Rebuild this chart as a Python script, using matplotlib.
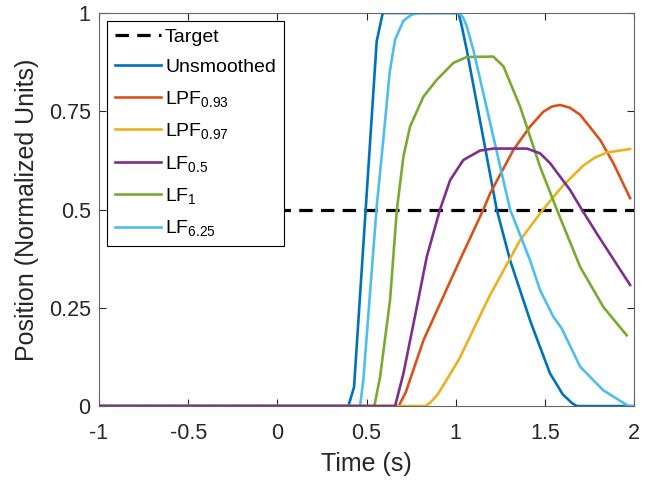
import numpy as np
import matplotlib
matplotlib.use("Agg")
import matplotlib.pyplot as plt

plt.rcParams['font.family'] = ['Liberation Sans', 'DejaVu Sans']
plt.rcParams['mathtext.default'] = 'regular'

# target step
target_t = [-1, 0, 0, 0, 2]
target_y = [0, 0, np.nan, 0.5, 0.5]

unsm_t = [-1, 0.398, 0.430, 0.557, 0.591, 1.015, 1.03, 1.062, 1.230, 1.305, 1.417, 1.473, 1.529, 1.60, 1.651, 1.679, 2.0]
unsm_y = [0, 0, 0.048, 0.928, 1, 1, 0.975, 0.906, 0.5, 0.371, 0.218, 0.150, 0.083, 0.03, 0.008, 0, 0]

lpf93_t = [-1, 0.68, 0.72, 0.819, 1.006, 1.155, 1.193, 1.324, 1.417, 1.492, 1.54, 1.585, 1.64, 1.698, 1.81, 1.884, 1.978]
lpf93_y = [0, 0, 0.035, 0.167, 0.354, 0.5, 0.541, 0.652, 0.711, 0.749, 0.762, 0.766, 0.759, 0.741, 0.677, 0.618, 0.529]

lpf97_t = [-1, 0.83, 0.86, 0.90, 1.02, 1.19, 1.361, 1.49, 1.60, 1.716, 1.78, 1.847, 1.978]
lpf97_y = [0, 0, 0.01, 0.03, 0.12, 0.28, 0.422, 0.50, 0.56, 0.612, 0.632, 0.645, 0.654]

lf05_t = [-1, 0.660, 0.707, 0.782, 0.838, 0.912, 0.969, 1.043, 1.137, 1.21, 1.40, 1.473, 1.529, 1.641, 1.707, 1.791, 1.978]
lf05_y = [0, 0, 0.083, 0.252, 0.380, 0.5, 0.575, 0.626, 0.650, 0.655, 0.655, 0.643, 0.618, 0.55, 0.5, 0.439, 0.308]

lf1_t = [-1, 0.544, 0.576, 0.632, 0.67, 0.707, 0.744, 0.819, 0.894, 0.987, 1.062, 1.211, 1.268, 1.361, 1.473, 1.567, 1.698, 1.828, 1.959]
lf1_y = [0, 0, 0.074, 0.27, 0.499, 0.635, 0.711, 0.787, 0.83, 0.873, 0.888, 0.889, 0.864, 0.762, 0.609, 0.5, 0.354, 0.252, 0.180]

lf625_t = [-1, 0.464, 0.482, 0.557, 0.594, 0.630, 0.66, 0.707, 0.75, 0.791, 1.015, 1.04, 1.062, 1.099, 1.305, 1.417, 1.473, 1.548, 1.575, 1.595, 1.698, 1.828, 1.969, 2.0]
lf625_y = [0, 0, 0.066, 0.507, 0.677, 0.85, 0.932, 0.98, 0.995, 1, 1, 0.99, 0.966, 0.906, 0.5, 0.371, 0.295, 0.227, 0.21, 0.197, 0.10, 0.04, 0.0, 0]

xticks = [-1, -0.5, 0, 0.5, 1, 1.5, 2]
xtick_labels = ['-1', '-0.5', '0', '0.5', '1', '1.5', '2']
yticks = [0, 0.25, 0.5, 0.75, 1]
ytick_labels = ['0', '0.25', '0.5', '0.75', '1']

fig = plt.figure(figsize=(6.45, 4.8), dpi=100)
ax = fig.add_axes([0.1535, 0.154, 0.8295, 0.819])

lw = 1.9
ax.plot(target_t, target_y, '--', color='black', lw=2.3, dashes=(4.2, 2.6), label='Target')
ax.plot(unsm_t, unsm_y, color='#0072BD', lw=lw, label='Unsmoothed')
ax.plot(lpf93_t, lpf93_y, color='#D95319', lw=lw, label='LPF$_{0.93}$')
ax.plot(lpf97_t, lpf97_y, color='#EDB120', lw=lw, label='LPF$_{0.97}$')
ax.plot(lf05_t, lf05_y, color='#7E2F8E', lw=lw, label='LF$_{0.5}$', zorder=3)
ax.plot(lf1_t, lf1_y, color='#77AC30', lw=lw, label='LF$_{1}$')
ax.plot(lf625_t, lf625_y, color='#4DBEEE', lw=lw, label='LF$_{6.25}$')

ax.set_xlim(-1, 2)
ax.set_ylim(0, 1)
ax.set_xticks(xticks)
ax.set_xticklabels(xtick_labels)
ax.set_yticks(yticks)
ax.set_yticklabels(ytick_labels)
ax.tick_params(direction='in', top=True, right=True, labelsize=15.5, colors='#262626',
               length=5, width=0.8)
ax.tick_params(axis='x', pad=12)
ax.tick_params(axis='y', pad=6)
for s in ax.spines.values():
    s.set_color('#666666')
    s.set_linewidth(0.8)

ax.set_xlabel('Time (s)', fontsize=18, color='#262626', labelpad=6)
ax.set_ylabel('Position (Normalized Units)', fontsize=18, color='#262626', labelpad=7)

leg = ax.legend(loc='upper left', fontsize=14, frameon=True, fancybox=False,
                edgecolor='black', handlelength=2.4, handletextpad=0.2,
                labelspacing=0.64, borderaxespad=0.4, borderpad=0.4)
leg.get_frame().set_linewidth(0.8)
leg.get_frame().set_alpha(1)

fig.savefig('out.png', dpi=100)
